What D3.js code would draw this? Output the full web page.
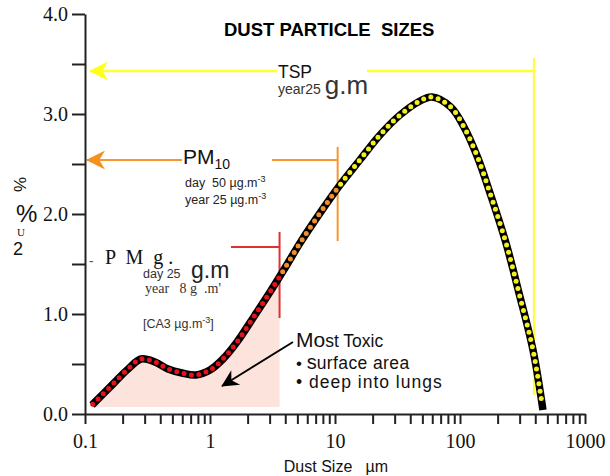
<!DOCTYPE html>
<html>
<head>
<meta charset="utf-8">
<script src="https://cdn.jsdelivr.net/npm/d3@7"></script>
<style>
  body { margin: 0; background: #fff; }
  svg { display: block; }
  .serif { font-family: "Liberation Serif", "DejaVu Serif", serif; }
  .sans { font-family: "Liberation Sans", Arial, sans-serif; }
</style>
</head>
<body>
<div class="chart"></div>
<script>
// ---- data ----
var sizes = [0.1138, 0.1675, 0.2168, 0.2805, 0.363, 0.4613, 0.597, 0.7727, 1.0, 1.27, 1.644,
             2.29, 3.02, 3.98, 5.25, 7.59, 10.96, 15.8, 22.9, 33.1, 47.9, 59.7, 84.3,
             107.6, 138, 173.8, 232, 296.5, 383.7, 461];
var percents = [0.09, 0.30, 0.44, 0.55, 0.52, 0.45, 0.41, 0.39, 0.44, 0.55, 0.72,
                0.99, 1.22, 1.46, 1.71, 2.01, 2.29, 2.54, 2.79, 2.99, 3.13, 3.17, 3.07,
                2.87, 2.57, 2.21, 1.72, 1.21, 0.64, 0.04];
var xTicks = [0.1,0.2,0.3,0.4,0.5,0.6,0.7,0.8,0.9,1,2,3,4,5,6,7,8,9,10,20,30,40,50,60,70,80,90,
              100,200,300,400,500,600,700,800,900,1000];
var xLabels = [0.1, 1, 10, 100, 1000];
var yTicks = [0, 0.5, 1, 1.5, 2, 2.5, 3, 3.5, 4];
var yLabels = [0, 1, 2, 3, 4];
var pm25Cut = 3.6, pm10Cut = 10.5, tspCut = 390;

var data = sizes.map((s, i) => ({size: s, pct: percents[i]}));

var width = 610, height = 476;

const svg = d3.select(".chart")
    .append("svg")
    .attr("width", width)
    .attr("height", height);

const xScale = d3.scaleLog().domain([0.1, 1000]).range([85, 585]);
const yScale = d3.scaleLinear().domain([0, 4]).range([414, 14]);

const defs = svg.append("defs");
function marker(id, color, w, h) {
    defs.append("marker")
        .attr("id", id)
        .attr("viewBox", "0 0 10 10")
        .attr("refX", 9.5).attr("refY", 5)
        .attr("markerUnits", "userSpaceOnUse")
        .attr("markerWidth", w).attr("markerHeight", h)
        .attr("orient", "auto-start-reverse")
        .append("path")
        .attr("d", "M0,0 L10,5 L0,10 L3,5 Z")
        .attr("fill", color);
}
marker("arYellow", "#ffff1a", 27, 19);
marker("arOrange", "#f5901e", 30, 19);
marker("arBlack", "#000", 24, 17);

defs.append("clipPath").attr("id", "fineClip")
    .append("rect")
    .attr("x", xScale(0.1)).attr("y", 0)
    .attr("width", xScale(pm25Cut) - xScale(0.1)).attr("height", height);

// pink fine-particle area
const area = d3.area()
    .x(d => xScale(d.size))
    .y0(yScale(0.07))
    .y1(d => yScale(d.pct))
    .curve(d3.curveCatmullRom.alpha(0.5));

svg.append("path")
    .datum(data)
    .attr("d", area)
    .attr("fill", "#fce3db")
    .attr("clip-path", "url(#fineClip)");

// title
svg.append("text")
    .attr("class", "sans")
    .attr("x", 224).attr("y", 36)
    .attr("font-size", 18.5).attr("font-weight", "bold")
    .attr("xml:space", "preserve")
    .text("DUST PARTICLE  SIZES");

// TSP bracket
const yTsp = 71;
svg.append("line")
    .attr("x1", xScale(0.1) + 5).attr("x2", 277)
    .attr("y1", yTsp).attr("y2", yTsp)
    .attr("stroke", "#ffff33").attr("stroke-width", 2.5)
    .attr("marker-start", "url(#arYellow)");
svg.append("line")
    .attr("x1", 367).attr("x2", xScale(tspCut))
    .attr("y1", yTsp).attr("y2", yTsp)
    .attr("stroke", "#ffff33").attr("stroke-width", 2.5);
svg.append("line")
    .attr("x1", xScale(tspCut)).attr("x2", xScale(tspCut))
    .attr("y1", 58).attr("y2", 395)
    .attr("stroke", "#ffff33").attr("stroke-width", 2);
svg.append("text").attr("class", "sans")
    .attr("x", 278).attr("y", 78).attr("font-size", 17.5).attr("fill", "#111")
    .text("TSP");
const tspSub = svg.append("text").attr("class", "sans")
    .attr("x", 278).attr("y", 94).attr("fill", "#333");
tspSub.append("tspan").attr("font-size", 14).text("year25 ");
tspSub.append("tspan").attr("font-size", 26).text("g.m");

// PM10 bracket
const yPm10 = 160;
svg.append("line")
    .attr("x1", xScale(0.1) + 2).attr("x2", 182)
    .attr("y1", yPm10).attr("y2", yPm10)
    .attr("stroke", "#f5962e").attr("stroke-width", 2)
    .attr("marker-start", "url(#arOrange)");
svg.append("line")
    .attr("x1", 272).attr("x2", xScale(pm10Cut))
    .attr("y1", yPm10).attr("y2", yPm10)
    .attr("stroke", "#f5962e").attr("stroke-width", 2);
svg.append("line")
    .attr("x1", xScale(pm10Cut)).attr("x2", xScale(pm10Cut))
    .attr("y1", 147).attr("y2", 241)
    .attr("stroke", "#f5962e").attr("stroke-width", 2);
const pm10 = svg.append("text").attr("class", "sans")
    .attr("x", 183).attr("y", 164).attr("fill", "#111");
pm10.append("tspan").attr("font-size", 21).text("PM");
pm10.append("tspan").attr("font-size", 14).attr("dy", 5).text("10");
[["day  50 \u00b5g.m", 187], ["year 25 \u00b5g.m", 204]].forEach(function(r) {
    const t = svg.append("text").attr("class", "sans")
        .attr("x", 185).attr("y", r[1]).attr("font-size", 12.5).attr("fill", "#222")
        .attr("xml:space", "preserve");
    t.append("tspan").text(r[0]);
    t.append("tspan").attr("font-size", 9).attr("dy", -5).text("-3");
});

// PM2.5 bracket
svg.append("line")
    .attr("x1", 231).attr("x2", xScale(pm25Cut))
    .attr("y1", 247).attr("y2", 247)
    .attr("stroke", "#e03030").attr("stroke-width", 2);
svg.append("line")
    .attr("x1", xScale(pm25Cut)).attr("x2", xScale(pm25Cut))
    .attr("y1", 232).attr("y2", 318)
    .attr("stroke", "#e03030").attr("stroke-width", 2);
svg.append("text").attr("class", "sans")
    .attr("x", 89).attr("y", 266).attr("font-size", 14).attr("fill", "#e02020")
    .text("-");
svg.append("text").attr("class", "serif")
    .attr("x", 105).attr("y", 264).attr("font-size", 20).attr("fill", "#111")
    .attr("xml:space", "preserve")
    .text("P  M  g .");
svg.append("text").attr("class", "sans")
    .attr("x", 143).attr("y", 278).attr("font-size", 12.5).attr("fill", "#333")
    .text("day 25");
svg.append("text").attr("class", "sans")
    .attr("x", 191).attr("y", 278).attr("font-size", 23).attr("fill", "#222")
    .text("g.m");
svg.append("text").attr("class", "serif")
    .attr("x", 145).attr("y", 293).attr("font-size", 14).attr("fill", "#333")
    .attr("xml:space", "preserve")
    .text("year   8 g  .m'");
const ca3 = svg.append("text").attr("class", "sans")
    .attr("x", 143).attr("y", 328).attr("font-size", 12.5).attr("fill", "#333");
ca3.append("tspan").text("[CA3 \u00b5g.m");
ca3.append("tspan").attr("font-size", 9).attr("dy", -5).text("-3");
ca3.append("tspan").attr("dy", 5).text("]");

// Most toxic note
svg.append("line")
    .attr("x1", 293).attr("y1", 342).attr("x2", 222).attr("y2", 386)
    .attr("stroke", "#000").attr("stroke-width", 1.8)
    .attr("marker-end", "url(#arBlack)");
const mt = svg.append("text").attr("class", "sans")
    .attr("x", 296).attr("y", 347).attr("fill", "#111");
mt.append("tspan").attr("font-size", 21).text("Mo");
mt.append("tspan").attr("font-size", 17.5).text("st Toxic");
const sa = svg.append("text").attr("class", "sans")
    .attr("x", 296).attr("y", 369).attr("fill", "#111");
sa.append("tspan").attr("font-size", 17).text("\u2022 ");
sa.append("tspan").attr("font-size", 20).text("s");
sa.append("tspan").attr("font-size", 17.5).attr("letter-spacing", 0.4).text("urface area");
svg.append("text").attr("class", "sans")
    .attr("x", 296).attr("y", 388).attr("font-size", 17.5).attr("fill", "#111")
    .attr("letter-spacing", 1)
    .text("\u2022 deep into lungs");

// the curve
const line = d3.line()
    .x(d => xScale(d.size))
    .y(d => yScale(d.pct))
    .curve(d3.curveCatmullRom.alpha(0.5));

const curve = svg.append("path")
    .datum(data)
    .attr("d", line)
    .attr("fill", "none")
    .attr("stroke", "#000")
    .attr("stroke-width", 7.5)
    .attr("stroke-linecap", "butt");

// coloured dots along the curve
const node = curve.node();
const total = node.getTotalLength();
const dots = [];
for (let l = 1; l < total - 8; l += 7.5) {
    dots.push(node.getPointAtLength(l));
}
svg.append("g")
    .selectAll("circle")
    .data(dots)
    .join("circle")
    .attr("cx", d => d.x)
    .attr("cy", d => d.y)
    .attr("r", 2.5)
    .attr("fill", function(d) {
        const s = xScale.invert(d.x);
        if (s < pm25Cut) return "#e8121c";
        if (s < pm10Cut) return "#f0902c";
        return "#f4f020";
    });

// axes
function yAxis(g) {
    g.call(d3.axisLeft(yScale).tickValues(yTicks).tickSize(13).tickSizeOuter(0).tickPadding(4)
        .tickFormat(v => yLabels.indexOf(v) >= 0 ? d3.format(".1f")(v) : ""))
     .attr("transform", `translate(${xScale(0.1)},0)`);
    g.selectAll("text").attr("class", "serif").attr("font-size", 20).attr("fill", "#111");
    g.selectAll("line,path").attr("stroke", "#222").attr("stroke-width", 2);
}
function xAxis(g) {
    g.call(d3.axisBottom(xScale).tickValues(xTicks).tickSize(10).tickSizeOuter(0).tickPadding(10)
        .tickFormat(v => xLabels.indexOf(v) >= 0 ? String(v) : ""))
     .attr("transform", `translate(0,${yScale(0)})`);
    g.selectAll("text").attr("class", "serif").attr("font-size", 20).attr("fill", "#111");
    g.selectAll("line,path").attr("stroke", "#222").attr("stroke-width", 2);
}
svg.append("g").attr("class", "y axis").call(yAxis);
svg.append("g").attr("class", "x axis").call(xAxis);

svg.append("text").attr("class", "sans")
    .attr("x", 336).attr("y", 472).attr("text-anchor", "middle")
    .attr("font-size", 16).attr("fill", "#111")
    .attr("xml:space", "preserve")
    .text("Dust Size   \u00b5m");

// y label (as garbled in the original)
svg.append("text").attr("class", "sans")
    .attr("transform", "translate(26,192) rotate(-90)")
    .attr("font-size", 17).attr("fill", "#111")
    .text("%");
svg.append("text").attr("class", "sans")
    .attr("x", 16).attr("y", 222).attr("font-size", 24).attr("fill", "#111")
    .text("%");
svg.append("text").attr("class", "serif")
    .attr("x", 17).attr("y", 236).attr("font-size", 11).attr("fill", "#222")
    .text("U");
svg.append("text").attr("class", "sans")
    .attr("x", 13).attr("y", 255).attr("font-size", 18).attr("fill", "#111")
    .text("2");
</script>
</body>
</html>
